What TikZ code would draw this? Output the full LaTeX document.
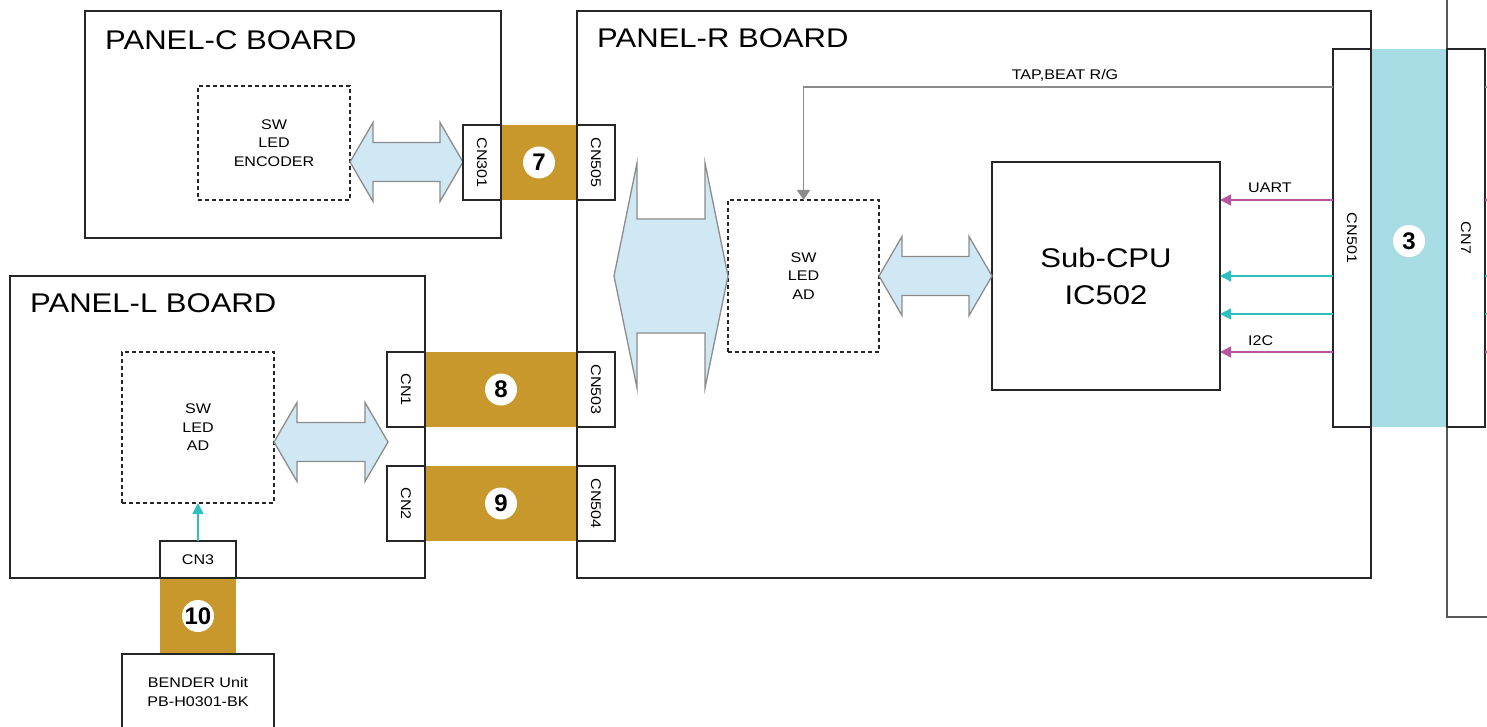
\documentclass[tikz,border=0pt]{standalone}
\usepackage{fontspec}
\setmainfont{Liberation Sans}
\usetikzlibrary{arrows.meta}
\definecolor{gold}{HTML}{C8982D}
\definecolor{cable}{HTML}{A8DCE4}
\definecolor{arrfill}{HTML}{D0E7F4}
\definecolor{arredge}{HTML}{8C8C8C}
\definecolor{sigpink}{HTML}{B5559F}
\definecolor{sigteal}{HTML}{2EBFBF}
\definecolor{linegray}{HTML}{8C8C8C}
\newcommand\w[1]{\scalebox{1.15}[1]{#1}}
\newcommand\hdbl[3]{\draw[dblarrow] (#1,#3) -- (#1+23,#3-39.5) -- (#1+23,#3-19.5) -- (#2-23,#3-19.5) -- (#2-23,#3-39.5) -- (#2,#3) -- (#2-23,#3+39.5) -- (#2-23,#3+19.5) -- (#1+23,#3+19.5) -- (#1+23,#3+39.5) -- cycle;}
\begin{document}
\begin{tikzpicture}[x=1pt,y=-1pt,
  box/.style={draw=black!85, line width=1.3pt, inner sep=0pt, outer sep=0pt, anchor=north west},
  cn/.style={box, fill=white, line width=1.8pt},
  dbox/.style={box, dash pattern=on 4pt off 3pt},
  goldblk/.style={fill=gold, inner sep=0pt, outer sep=0pt, anchor=north west},
  cableblk/.style={fill=cable, inner sep=0pt, outer sep=0pt, anchor=north west},
  num/.style={circle, fill=white, minimum size=32pt, inner sep=0pt, font=\bfseries\fontsize{24}{24}\selectfont},
  lbl/.style={font=\fontsize{14}{18.5}\selectfont, align=center, inner sep=0pt},
  title/.style={font=\fontsize{27}{32}\selectfont, anchor=west, inner sep=0pt},
  cnlbl/.style={font=\fontsize{14}{14}\selectfont, rotate=-90, inner sep=0pt},
  dblarrow/.style={draw=arredge, fill=arrfill, line width=1.3pt, line join=miter},
  sig/.style={line width=1.5pt, -{Triangle[length=11pt,width=11pt]}},
  tapline/.style={draw=linegray, line width=1.5pt, -{Triangle[length=10pt,width=13pt]}},
  edge/.style={draw=black!65, line width=1.3pt}
]
\useasboundingbox (0,0) rectangle (1487,727);

% boards
\node[box, minimum width=416pt, minimum height=227pt] (pc) at (85,11) {};
\node[box, minimum width=794pt, minimum height=567pt] (pr) at (577,11) {};
\node[box, minimum width=415pt, minimum height=302pt] (pl) at (10,276) {};
\node[title] (tc) at (105,40) {\w{PANEL-C BOARD}};
\node[title] (tr) at (597,38) {\w{PANEL-R BOARD}};
\node[title] (tl) at (30,303) {\w{PANEL-L BOARD}};

% cables
\node[goldblk, minimum width=76pt, minimum height=75pt] (g7) at (501,125) {};
\node[goldblk, minimum width=152pt, minimum height=75pt] (g8) at (425,352) {};
\node[goldblk, minimum width=152pt, minimum height=75pt] (g9) at (425,466) {};
\node[goldblk, minimum width=76pt, minimum height=76pt] (g10) at (160,578) {};
\node[cableblk, minimum width=76pt, minimum height=378pt] (c3) at (1371,49) {};

% right board outline (cut off)
\node[box, draw=none, minimum width=38pt, minimum height=378pt] (cn7pos) at (1447,49) {};
\coordinate (rbTop) at (1447,-5);
\coordinate (rbBot) at (1447,617);
\coordinate (rbEnd) at (1495,617);
\draw[edge] (rbTop) -- (cn7pos.north west);
\draw[edge] (cn7pos.south west) -- (rbBot) -- (rbEnd);

% functional blocks
\node[dbox, minimum width=152pt, minimum height=114pt] (dc) at (198,86) {};
\node[lbl] at (dc.center) {\w{SW}\\\w{LED}\\\w{ENCODER}};
\node[dbox, minimum width=151pt, minimum height=152pt] (dr) at (728,200) {};
\node[lbl] at (dr.center) {\w{SW}\\\w{LED}\\\w{AD}};
\node[dbox, minimum width=152pt, minimum height=151pt] (dl) at (122,352) {};
\node[lbl] at (dl.center) {\w{SW}\\\w{LED}\\\w{AD}};
\node[box, minimum width=228pt, minimum height=228pt] (cpu) at (992,162) {};
\node[font=\fontsize{27}{37}\selectfont, align=center, inner sep=0pt] at (cpu.center) {\w{Sub-CPU}\\\w{IC502}};

% bus arrows
\hdbl{350}{463}{162}
\hdbl{274}{388}{442}
\hdbl{879}{992}{276}
\draw[dblarrow] (614,276) -- (637,163) -- (637,219) -- (705,219) -- (705,163) -- (728,276)
  -- (705,388) -- (705,333) -- (637,333) -- (637,388) -- cycle;

% connectors boxes
\node[cn, minimum width=38pt, minimum height=75pt] (cn301) at (463,125) {};
\node[cnlbl] at (cn301.center) {\w{CN301}};
\node[cn, minimum width=38pt, minimum height=75pt] (cn505) at (577,125) {};
\node[cnlbl] at (cn505.center) {\w{CN505}};
\node[cn, minimum width=38pt, minimum height=75pt] (cn1) at (387,352) {};
\node[cnlbl] at (cn1.center) {\w{CN1}};
\node[cn, minimum width=38pt, minimum height=75pt] (cn503) at (577,352) {};
\node[cnlbl] at (cn503.center) {\w{CN503}};
\node[cn, minimum width=38pt, minimum height=75pt] (cn2) at (387,466) {};
\node[cnlbl] at (cn2.center) {\w{CN2}};
\node[cn, minimum width=38pt, minimum height=75pt] (cn504) at (577,466) {};
\node[cnlbl] at (cn504.center) {\w{CN504}};
\node[cn, minimum width=76pt, minimum height=37pt] (cn3) at (160,541) {};
\node[lbl] at (cn3.center) {\w{CN3}};
\node[cn, minimum width=38pt, minimum height=378pt] (cn501) at (1333,49) {};
\node[cnlbl] at (1352,238) {\w{CN501}};
\node[cn, minimum width=38pt, minimum height=378pt] (cn7) at (1447,49) {};
\node[cnlbl] at (1466,238) {\w{CN7}};
\node[cn, minimum width=152pt, minimum height=100pt] (bender) at (122,654) {};
\node[lbl, align=center] at (198,692) {\w{BENDER Unit}\\\w{PB-H0301-BK}};

% cable numbers
\node[num] at (g7.center) {7};
\node[num] at (g8.center) {8};
\node[num] at (g9.center) {9};
\node[num] at (g10.center) {10};
\node[num] at (1409,241) {3};

% signals
\coordinate (tapS) at (1333,87);
\draw[tapline] (tapS) -| (dr.north);
\node[lbl] at (1065,75) {\w{TAP,BEAT R/G}};
\coordinate (s1) at (1333,200);
\coordinate (s2) at (1333,276);
\coordinate (s3) at (1333,314);
\coordinate (s4) at (1333,352);
\draw[sig, draw=sigpink, fill=sigpink] (s1) -- (s1 -| cpu.east);
\draw[sig, draw=sigteal, fill=sigteal] (s2) -- (s2 -| cpu.east);
\draw[sig, draw=sigteal, fill=sigteal] (s3) -- (s3 -| cpu.east);
\draw[sig, draw=sigpink, fill=sigpink] (s4) -- (s4 -| cpu.east);
\node[lbl, anchor=west] at (1248,188) {\w{UART}};
\node[lbl, anchor=west] at (1248,341) {\w{I2C}};
\draw[sig, draw=sigteal, fill=sigteal] (cn3.north) -- (dl.south);

% stubs right of CN7
\draw[draw=linegray, line width=1.5pt] (tapS -| cn7.east) -- ++(6,0);
\draw[draw=sigpink, line width=1.5pt] (s1 -| cn7.east) -- ++(6,0);
\draw[draw=sigteal, line width=1.5pt] (s2 -| cn7.east) -- ++(6,0);
\draw[draw=sigteal, line width=1.5pt] (s3 -| cn7.east) -- ++(6,0);
\draw[draw=sigpink, line width=1.5pt] (s4 -| cn7.east) -- ++(6,0);
\end{tikzpicture}
\end{document}
